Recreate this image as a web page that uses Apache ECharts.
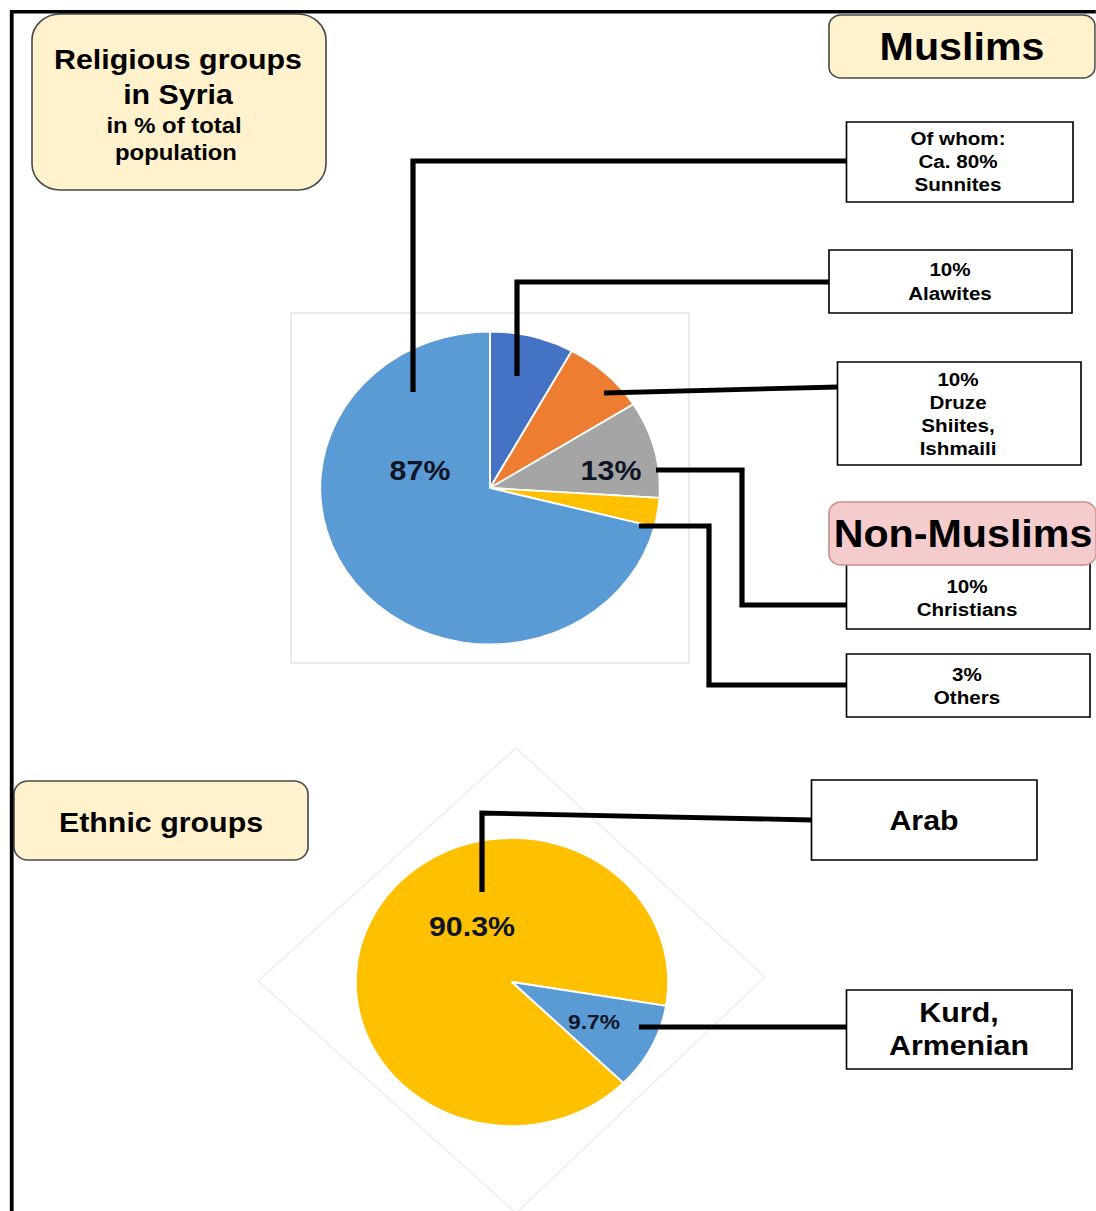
<!DOCTYPE html>
<html>
<head>
<meta charset="utf-8">
<script src="https://cdn.jsdelivr.net/npm/echarts@6/dist/echarts.min.js"></script>
<style>
html,body{margin:0;padding:0;background:#fff;overflow:hidden;}
#wrap{width:1096px;height:1211px;overflow:hidden;position:relative;}
#chart{position:absolute;left:0;top:0;height:1211px;transform-origin:0 0;}
</style>
</head>
<body>
<div id="wrap"><div id="chart"></div></div>
<script>
// ---- data ----
const religionNames = ['Alawites', 'Druze, Shiites, Ishmaili', 'Christians', 'Others', 'Sunnites'];
const religionValues = [8, 8, 10, 3, 71];
const religionIsMuslim = [true, true, false, false, true];
const ethnicNames = ['Arab', 'Kurd, Armenian'];
const ethnicValues = [90.3, 9.7];

// callout box texts
const sunniText = ['Of whom:', 'Ca. 80%', 'Sunnites'];
const alawiText = ['10%', 'Alawites'];
const druzeText = ['10%', 'Druze', 'Shiites,', 'Ishmaili'];
const christText = ['10%', 'Christians'];
const othersText = ['3%', 'Others'];
const titleText = ['Religious groups', 'in Syria', 'in % of total', 'population'];

// ---- styles ----
const religionColors = ['#4472C4', '#ED7D31', '#A5A5A5', '#FFC000', '#5B9BD5'];
const ethnicColors = ['#FFC000', '#5B9BD5'];

const SX = 1.085;             // horizontal stretch of the picture
const W = 1096 / SX;
const X = v => v / SX;
const FONT = '"Liberation Sans", Arial, Helvetica, sans-serif';

const chartEl = document.getElementById('chart');
chartEl.style.width = W + 'px';
chartEl.style.transform = 'scaleX(' + SX + ')';

const muslimTotal = religionValues.reduce((s, v, i) => s + (religionIsMuslim[i] ? v : 0), 0);
const nonMuslimTotal = religionValues.reduce((s, v, i) => s + (religionIsMuslim[i] ? 0 : v), 0);

function rect(x1, y1, x2, y2, fill, stroke, lw, r, z) {
  return {type: 'rect', silent: true, z: z,
    shape: {x: X(x1), y: y1, width: X(x2) - X(x1), height: y2 - y1, r: r || 0},
    style: {fill: fill, stroke: stroke, lineWidth: lw}};
}
function txt(cx, cy, s, size, color, z) {
  return {type: 'text', silent: true, z: z || 20, x: X(cx), y: cy,
    style: {text: s, font: 'bold ' + size + 'px ' + FONT, fill: color || '#000',
      align: 'center', verticalAlign: 'middle', textAlign: 'center', textVerticalAlign: 'middle'}};
}
function lines(cx, ys, arr, size) {
  return arr.map((s, i) => txt(cx, ys[i], s, size));
}
function poly(pts, lw, color, z) {
  return {type: 'polyline', silent: true, z: z || 15,
    shape: {points: pts.map(p => [X(p[0]), p[1]])},
    style: {stroke: color || '#000', lineWidth: lw, fill: null, lineJoin: 'miter', lineCap: 'butt'}};
}

const CREAM = '#FFF2CC', CREAM_B = '#4a4a4a';
const graphics = [];
// frame
graphics.push(poly([[11.7, 1230], [11.7, 11.7], [1110, 11.7]], 3.5, '#000', 30));
// religion chart area & ethnic diamond
graphics.push(rect(291, 313, 689, 663, null, '#D9D9D9', 1, 0, 0));
graphics.push({type: 'polygon', silent: true, z: 0,
  shape: {points: [[X(516), 748], [X(765), 977], [X(516), 1213], [X(258), 981]]},
  style: {fill: null, stroke: '#EBEBEB', lineWidth: 1.2}});
// title box
graphics.push(rect(32, 14, 326, 190, CREAM, CREAM_B, 1.5, 26, 5));
graphics.push(txt(178, 59, titleText[0], 28));
graphics.push(txt(178, 94, titleText[1], 28));
graphics.push(txt(174, 125, titleText[2], 22));
graphics.push(txt(176, 152, titleText[3], 22));
// Muslims header
graphics.push(rect(829, 15, 1095, 78, CREAM, CREAM_B, 1.5, 11, 5));
graphics.push(txt(962, 47, 'Muslims', 38));
// Sunnites box
graphics.push(rect(846.5, 122, 1073, 202, '#fff', '#000', 1.5, 0, 5));
graphics.push(...lines(958, [138, 161, 184], sunniText, 19));
// Alawites box
graphics.push(rect(829, 250, 1072, 313, '#fff', '#000', 1.5, 0, 5));
graphics.push(...lines(950, [269, 293], alawiText, 19));
// Druze box
graphics.push(rect(837.5, 362, 1081, 465, '#fff', '#000', 1.5, 0, 5));
graphics.push(...lines(958, [379, 402, 425, 448], druzeText, 19));
// Christians box
graphics.push(rect(846.5, 563, 1090, 629, '#fff', '#000', 1.5, 0, 5));
graphics.push(...lines(967, [586, 609], christText, 19));
// Non-Muslims header
graphics.push(rect(829, 502, 1096, 565, '#F4CCCC', '#C98F8F', 1.5, 11, 6));
graphics.push(txt(963, 534, 'Non-Muslims', 38));
// Others box
graphics.push(rect(846.5, 654, 1090, 717, '#fff', '#000', 1.5, 0, 5));
graphics.push(...lines(967, [674, 697], othersText, 19));
// Ethnic groups header
graphics.push(rect(14, 781, 308, 860, CREAM, CREAM_B, 1.5, 13, 5));
graphics.push(txt(161, 822, 'Ethnic groups', 28));
// Arab / Kurd boxes
graphics.push(rect(811.5, 780, 1037, 860, '#fff', '#000', 1.5, 0, 5));
graphics.push(txt(924, 820, ethnicNames[0], 28));
graphics.push(rect(846.5, 990, 1072, 1069, '#fff', '#000', 1.5, 0, 5));
const kurdLines = ethnicNames[1].replace(', ', ',\n').split('\n');
graphics.push(txt(959, 1012, kurdLines[0], 28));
graphics.push(txt(959, 1045, kurdLines[1], 28));
// callout lines
const LW = 4.8;
graphics.push(poly([[413, 392], [413, 161], [847, 161]], LW));
graphics.push(poly([[517, 376], [517, 282], [829, 282]], LW));
graphics.push(poly([[604, 393], [838, 387]], LW));
graphics.push(poly([[656, 470], [742, 470], [742, 605], [847, 605]], LW));
graphics.push(poly([[639, 526], [709, 526], [709, 685], [847, 685]], LW));
graphics.push(poly([[482, 892], [482, 813], [812, 820]], LW));
graphics.push(poly([[639, 1027], [847, 1027]], LW));
// value labels
graphics.push(txt(420, 470, muslimTotal + '%', 28, '#0d1526'));
graphics.push(txt(611, 470, nonMuslimTotal + '%', 28, '#0d1526'));
graphics.push(txt(472, 926, ethnicValues[0] + '%', 28, '#0d1526'));
graphics.push(txt(594, 1022, ethnicValues[1] + '%', 21, '#0d1526'));

const chart = echarts.init(chartEl, null, {renderer: 'svg', width: W, height: 1211});
chart.setOption({
  animation: false,
  backgroundColor: '#fff',
  tooltip: {show: false},
  series: [
    {
      type: 'pie', name: 'Religion',
      center: [X(490), 488], radius: 156.5,
      startAngle: 90, clockwise: true, z: 2,
      label: {show: false}, labelLine: {show: false},
      emphasis: {disabled: true}, silent: true,
      itemStyle: {borderColor: '#fff', borderWidth: 1.8},
      data: religionNames.map((n, i) => ({name: n, value: religionValues[i], itemStyle: {color: religionColors[i]}}))
    },
    {
      type: 'pie', name: 'Ethnic',
      center: [X(512), 982], radius: 144,
      startAngle: -44.5, clockwise: true, z: 2,
      label: {show: false}, labelLine: {show: false},
      emphasis: {disabled: true}, silent: true,
      itemStyle: {borderColor: '#fff', borderWidth: 1.8},
      data: ethnicNames.map((n, i) => ({name: n, value: ethnicValues[i], itemStyle: {color: ethnicColors[i]}}))
    }
  ],
  graphic: {elements: graphics}
});
</script>
</body>
</html>
